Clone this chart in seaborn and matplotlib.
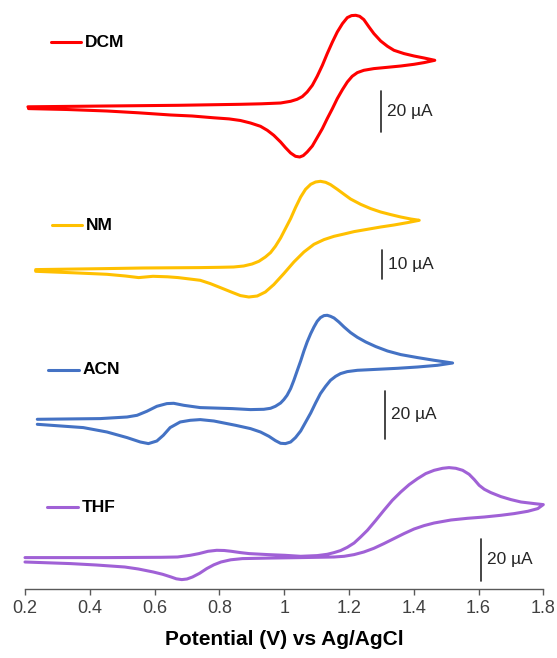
import matplotlib
matplotlib.use("Agg")
import matplotlib.pyplot as plt
import seaborn as sns
import pandas as pd

# --------------------------------------------------
# Data: potential (V) and current (display units, offset per solvent)
# forward scan then reverse scan
# --------------------------------------------------
solvents = ["DCM", "NM", "ACN", "THF"]
colors = ["#FF0000", "#FFC000", "#4472C4", "#A061D6"]

dcm_E = [0.209, 0.450, 0.673, 0.865, 0.930, 0.989, 1.020, 1.040, 1.056, 1.071,
         1.087, 1.102, 1.118, 1.133, 1.149, 1.164, 1.180, 1.195, 1.208, 1.221,
         1.233, 1.246, 1.262, 1.277, 1.298, 1.319, 1.339, 1.370, 1.401, 1.432,
         1.465,
         1.432, 1.401, 1.360, 1.319, 1.277, 1.246, 1.226, 1.210, 1.195, 1.180,
         1.164, 1.149, 1.133, 1.118, 1.102, 1.087, 1.071, 1.059, 1.048, 1.035,
         1.020, 1.004, 0.989, 0.968, 0.948, 0.927, 0.896, 0.865, 0.830, 0.783,
         0.716, 0.650, 0.550, 0.453, 0.330, 0.211]
dcm_i = [482.5, 483.3, 484.0, 485.0, 485.5, 486.3, 488.0, 490.0, 492.7, 497.3,
         504.0, 513.0, 524.0, 535.7, 547.3, 557.3, 565.7, 571.7, 573.7, 574.0,
         573.0, 569.7, 562.3, 555.7, 548.3, 543.0, 539.0, 535.7, 533.3, 531.3,
         529.0,
         526.7, 525.0, 523.3, 522.0, 520.7, 519.0, 516.7, 513.0, 507.3, 499.7,
         490.7, 480.7, 470.7, 460.7, 451.7, 443.3, 437.3, 433.7, 432.3, 433.0,
         436.3, 441.7, 447.3, 454.0, 459.0, 463.0, 466.3, 468.8, 470.4, 471.5,
         473.3, 474.3, 476.5, 478.3, 479.8, 480.7]

nm_E = [0.233, 0.450, 0.563, 0.650, 0.741, 0.803, 0.844, 0.875, 0.901, 0.922,
        0.942, 0.958, 0.973, 0.989, 1.004, 1.020, 1.035, 1.051, 1.066, 1.082,
        1.097, 1.112, 1.128, 1.143, 1.164, 1.185, 1.205, 1.236, 1.267, 1.298,
        1.329, 1.360, 1.391, 1.417,
        1.381, 1.339, 1.298, 1.257, 1.216, 1.185, 1.154, 1.123, 1.092, 1.061,
        1.030, 0.999, 0.968, 0.942, 0.917, 0.891, 0.865, 0.839, 0.803, 0.772,
        0.741, 0.673, 0.640, 0.595, 0.551, 0.510, 0.453, 0.350, 0.233]
nm_i = [319.7, 320.7, 321.3, 321.5, 321.7, 322.0, 322.3, 323.3, 325.3, 328.0,
        332.3, 336.7, 343.0, 351.3, 360.7, 370.7, 381.7, 392.3, 400.0, 405.0,
        407.3, 408.0, 407.0, 404.7, 400.0, 395.0, 390.3, 385.0, 380.7, 377.3,
        374.7, 372.3, 370.3, 369.0,
        366.7, 364.3, 362.3, 360.0, 357.7, 355.3, 353.0, 349.7, 345.0, 337.3,
        327.3, 315.7, 304.7, 297.3, 293.3, 292.3, 293.7, 297.0, 301.7, 305.7,
        309.0, 311.7, 312.5, 313.0, 311.7, 313.3, 315.0, 316.5, 318.0]

acn_E = [0.238, 0.432, 0.515, 0.546, 0.576, 0.607, 0.638, 0.659, 0.690, 0.741,
         0.840, 0.896, 0.937, 0.958, 0.973, 0.989, 0.999, 1.009, 1.020, 1.030,
         1.040, 1.051, 1.061, 1.071, 1.082, 1.092, 1.102, 1.112, 1.123, 1.133,
         1.143, 1.154, 1.169, 1.185, 1.205, 1.226, 1.252, 1.283, 1.319, 1.360,
         1.412, 1.463, 1.520,
         1.473, 1.412, 1.350, 1.288, 1.226, 1.195, 1.174, 1.159, 1.143, 1.128,
         1.112, 1.097, 1.082, 1.066, 1.051, 1.035, 1.020, 1.004, 0.989, 0.973,
         0.953, 0.927, 0.896, 0.850, 0.783, 0.741, 0.710, 0.679, 0.648, 0.627,
         0.607, 0.581, 0.556, 0.515, 0.453, 0.380, 0.238]
acn_i = [170.0, 170.7, 172.3, 174.0, 178.0, 183.0, 185.7, 186.0, 184.0, 181.7,
         180.7, 179.7, 180.0, 181.0, 183.0, 186.3, 189.7, 194.0, 200.7, 209.0,
         218.3, 228.3, 238.3, 247.3, 255.7, 262.3, 268.0, 271.7, 273.7, 274.0,
         273.0, 271.3, 267.3, 262.3, 256.7, 252.0, 247.3, 242.7, 238.3, 234.7,
         231.7, 229.0, 226.3,
         224.0, 222.3, 221.0, 220.0, 219.0, 217.7, 215.7, 213.0, 209.0, 203.0,
         195.7, 186.3, 176.3, 167.0, 158.3, 151.7, 147.3, 145.7, 146.0, 148.7,
         153.0, 157.3, 160.7, 164.0, 168.3, 169.7, 169.0, 167.3, 161.7, 154.0,
         148.3, 145.7, 147.3, 151.7, 157.3, 161.7, 165.0]

thf_E = [0.200, 0.450, 0.620, 0.671, 0.710, 0.737, 0.765, 0.792, 0.815, 0.837,
         0.865, 0.892, 0.950, 1.002, 1.051, 1.102, 1.133, 1.154, 1.174, 1.195,
         1.216, 1.236, 1.257, 1.283, 1.308, 1.334, 1.360, 1.386, 1.412, 1.437,
         1.463, 1.489, 1.509, 1.530, 1.551, 1.571, 1.587, 1.602, 1.618, 1.638,
         1.669, 1.700, 1.731, 1.772, 1.800,
         1.783, 1.752, 1.710, 1.669, 1.618, 1.566, 1.515, 1.463, 1.432, 1.401,
         1.370, 1.339, 1.308, 1.277, 1.246, 1.216, 1.185, 1.154, 1.102, 1.051,
         0.950, 0.871, 0.835, 0.805, 0.783, 0.761, 0.739, 0.717, 0.700, 0.684,
         0.667, 0.651, 0.625, 0.596, 0.550, 0.508, 0.420, 0.341, 0.200]
thf_i = [31.7, 31.7, 32.0, 32.3, 34.0, 35.7, 38.0, 39.0, 38.8, 38.0,
         36.7, 35.7, 34.7, 34.0, 33.0, 33.7, 35.0, 36.7, 38.7, 42.0,
         46.3, 52.3, 59.0, 69.0, 79.0, 89.0, 97.3, 104.7, 110.7, 115.7,
         119.0, 121.0, 121.7, 121.0, 119.0, 115.0, 109.7, 104.0, 100.0, 96.7,
         92.7, 89.7, 87.3, 85.7, 84.7,
         80.7, 78.0, 75.7, 74.0, 72.3, 71.0, 69.3, 66.3, 63.7, 60.3,
         55.7, 50.7, 45.7, 41.0, 37.3, 34.7, 33.0, 32.3, 32.0, 31.7,
         31.2, 30.7, 29.5, 27.3, 24.5, 20.7, 16.0, 12.3, 10.3, 9.7,
         10.5, 12.3, 15.0, 17.3, 20.3, 22.3, 24.3, 25.7, 27.3]

# scale bars: label, bar length (display units)
bar_labels = ["20 µA", "10 µA", "20 µA", "20 µA"]
bar_lengths = [40.7, 29.0, 47.6, 42.4]

xticks = [0.2, 0.4, 0.6, 0.8, 1.0, 1.2, 1.4, 1.6, 1.8]
xtick_labels = ["0.2", "0.4", "0.6", "0.8", "1", "1.2", "1.4", "1.6", "1.8"]

frames = []
for name, E, i in [("DCM", dcm_E, dcm_i), ("NM", nm_E, nm_i),
                   ("ACN", acn_E, acn_i), ("THF", thf_E, thf_i)]:
    frames.append(pd.DataFrame({"E": E, "i": i, "solvent": name}))
df = pd.concat(frames, ignore_index=True)

sns.set_theme(style="white")
plt.rcParams["font.family"] = ["Liberation Sans", "DejaVu Sans"]

fig = plt.figure(figsize=(5.57, 6.58), dpi=100)
ax = fig.add_axes([25 / 557, 68.7 / 658, 518.3 / 557, 589.3 / 658])

sns.lineplot(data=df, x="E", y="i", hue="solvent", hue_order=solvents,
             palette=colors, sort=False, estimator=None, lw=2.2,
             legend=False, ax=ax, clip_on=False,
             solid_joinstyle="round", solid_capstyle="round")

# legend entries (dash + bold label) placed beside each trace
leg_pos = [(0.279, 547.3), (0.282, 364.0), (0.272, 219.7), (0.269, 82.3)]
for name, c, (x0, y0) in zip(solvents, colors, leg_pos):
    ax.plot([x0, x0 + 0.095], [y0, y0], color=c, lw=2.2, clip_on=False)
    ax.text(x0 + 0.106, y0, name, fontsize=12.5, fontweight="bold",
            color="black", va="center", ha="left")

# scale bars
bar_pos = [(1.298, 457.3), (1.303, 310.0), (1.311, 150.7), (1.607, 8.3)]
for lab, L, (xb, yb) in zip(bar_labels, bar_lengths, bar_pos):
    ax.plot([xb, xb], [yb, yb + L], color="#262626", lw=1.2, clip_on=False)
    ax.text(xb + 0.018, yb + L / 2, lab, fontsize=12.5, color="#262626",
            va="center", ha="left")

ax.set_xlim(0.2, 1.8)
ax.set_ylim(0, 589.3)
ax.set_xticks(xticks)
ax.set_xticklabels(xtick_labels, fontsize=13, color="#404040")
ax.set_yticks([])
ax.set_ylabel("")
ax.set_xlabel("Potential (V) vs Ag/AgCl", fontsize=15, fontweight="bold",
              color="black", labelpad=9)
for s in ["left", "top", "right"]:
    ax.spines[s].set_visible(False)
ax.spines["bottom"].set_color("#595959")
ax.spines["bottom"].set_linewidth(1.0)
ax.tick_params(axis="x", direction="out", length=4, width=1.0,
               color="#595959", bottom=True, pad=4)
ax.set_facecolor("white")

fig.savefig("out.png", dpi=100, facecolor="white")
